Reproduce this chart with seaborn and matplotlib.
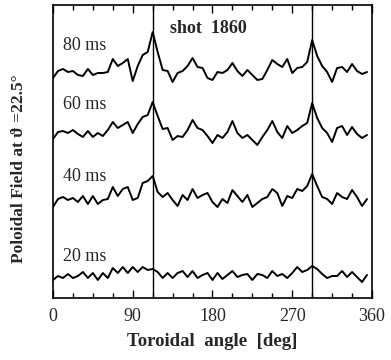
import numpy as np
import pandas as pd
import matplotlib.pyplot as plt
import seaborn as sns
from matplotlib.ticker import MultipleLocator


# 64 pickup coils, equally spaced around the torus
angles = np.arange(64) * 360 / 64

times = ["80 ms", "60 ms", "40 ms", "20 ms"]
offsets = [220, 158, 93, 18]
label_y = [253, 194, 122, 42]

b_80 = [0, 7, 9, 6, 7, 3, 2, 9, 3, 5, 5, 6, 19, 12, 15, 19, -3, 12, 23, 26, 46, 26, 8, 7,
        -4, 5, 7, 12, 20, 11, 10, 0, -2, 6, 5, 8, 15, 7, 2, 8, 3, -2, -1, 8, 18, 14, 11, 19,
        5, 10, 11, 16, 38, 22, 12, 6, -4, 10, 11, 6, 14, 7, 4, 6]
b_60 = [1, 8, 9, 7, 10, 6, 3, 9, 3, 7, 4, 10, 18, 12, 15, 18, 7, 16, 23, 25, 38, 24, 11, 12,
        0, 4, 3, 10, 20, 12, 10, 4, -3, 5, 2, 8, 19, 7, 2, 5, 0, -5, 3, 10, 19, 8, 2, 14,
        7, 10, 14, 17, 37, 22, 12, 7, -2, 12, 14, 5, 13, 6, 2, 5]
b_40 = [-2, 6, 8, 5, 7, 3, 9, 1, 9, 1, 5, 6, 18, 9, 16, 18, 5, 7, 22, 24, 29, 13, 8, 12,
        5, -1, 10, 5, 16, 7, 10, 12, 3, -2, 6, 2, 15, 9, 3, 10, -2, 2, 6, 8, 16, 12, -1, 9,
        7, 16, 14, 19, 31, 19, 8, 6, 1, 12, 8, 6, 15, 8, -1, 6]
b_20 = [0, 4, 2, 6, 2, 4, 8, 2, 7, 0, 7, 2, 12, 7, 13, 7, 13, 8, 13, 10, 11, 8, 2, 7,
        2, 7, 9, 3, 9, 2, 5, 7, 0, 7, 1, 5, 9, 3, 5, 6, 0, 6, 5, 2, 9, 4, 6, 2,
        7, 13, 8, 10, 14, 11, 6, 2, 4, 4, 9, 3, 8, 3, -2, 5]

locked_angles = [112.5, 292.5]

frames = []
for t, off, b in zip(times, offsets, [b_80, b_60, b_40, b_20]):
    frames.append(pd.DataFrame({"angle": angles, "field": np.array(b) + off, "time": t}))
df = pd.concat(frames, ignore_index=True)

sns.set_style("ticks")
plt.rcParams["font.family"] = ["Liberation Serif", "DejaVu Serif"]

fig = plt.figure(figsize=(3.91, 3.6), dpi=100)
ax = fig.add_axes([0.1355, 0.1722, 0.8159, 0.8139])

sns.lineplot(data=df, x="angle", y="field", units="time", estimator=None,
             color="black", linewidth=1.4, ax=ax)

for a in locked_angles:
    ax.axvline(a, color="black", linewidth=1.0)

for t, ly in zip(times, label_y):
    ax.text(11.3, ly, t, fontsize=13, ha="left", va="center")

ax.text(132, 270, "shot  1860", fontsize=13, fontweight="bold", ha="left", va="center")

ax.set_xlim(0, 360)
ax.set_ylim(0, 293)
ax.set_yticks([])
ax.xaxis.set_major_locator(MultipleLocator(90))
ax.xaxis.set_minor_locator(MultipleLocator(22.5))
ax.tick_params(axis="x", which="both", direction="in", top=True, bottom=True,
               labelsize=13, pad=7, color="black")
ax.tick_params(axis="x", which="major", length=6, width=1)
ax.tick_params(axis="x", which="minor", length=3.5, width=1)

for s in ax.spines.values():
    s.set_linewidth(1.2)
    s.set_color("black")

ax.set_xlabel("Toroidal  angle  [deg]", fontsize=13.5, fontweight="bold", labelpad=6)
ax.set_ylabel("Poloidal Field at ϑ =22.5°", fontsize=12.5, fontweight="bold")
ax.yaxis.set_label_coords(-0.08, 0.44)

fig.savefig("out.png", dpi=100)
